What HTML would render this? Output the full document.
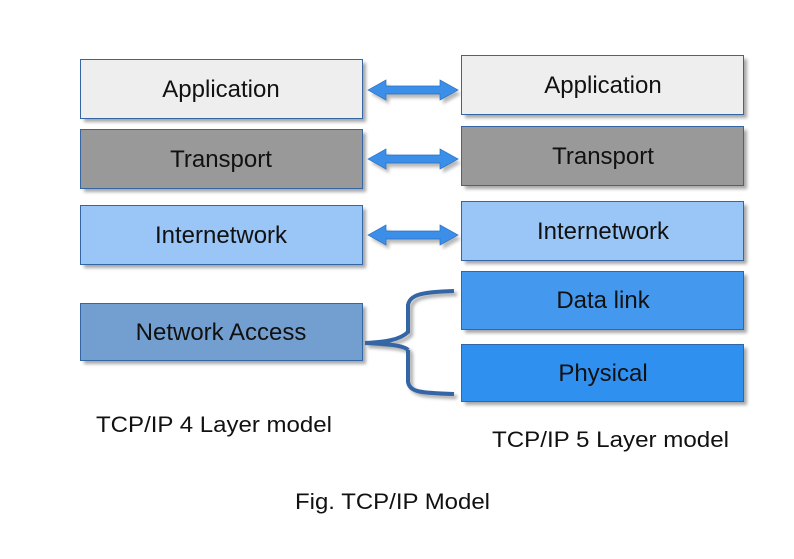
<!DOCTYPE html>
<html><head><meta charset="utf-8"><style>
html,body{margin:0;padding:0;background:#fff;}
svg{display:block;}
text{font-family:"Liberation Sans",sans-serif;font-size:22px;fill:#111;}
.b{font-size:24px;}
</style></head><body>
<svg width="794" height="559" viewBox="0 0 794 559" xmlns="http://www.w3.org/2000/svg">
<defs>
<g id="arr"><path d="M0,0 L18,-10 L18,-4 L72,-4 L72,-10 L90,0 L72,10 L72,4 L18,4 L18,10 Z"/></g>
<filter id="bl" x="-10%" y="-20%" width="120%" height="140%"><feGaussianBlur stdDeviation="1.5"/></filter>
</defs>
<g fill="#8a8a8a" opacity="0.75" filter="url(#bl)">
<rect x="84" y="63" width="282" height="59"/>
<rect x="84" y="133" width="282" height="59"/>
<rect x="84" y="209" width="282" height="59"/>
<rect x="84" y="307" width="282" height="57"/>
<rect x="465" y="59" width="282" height="59"/>
<rect x="465" y="130" width="282" height="59"/>
<rect x="465" y="205" width="282" height="59"/>
<rect x="465" y="275" width="282" height="58"/>
<rect x="465" y="348" width="282" height="57"/>
</g>
<g stroke="#3465a4" stroke-width="1">
<rect x="80.5" y="59.5" width="282" height="59" fill="#eeeeee"/>
<rect x="80.5" y="129.5" width="282" height="59" fill="#999999"/>
<rect x="80.5" y="205.5" width="282" height="59" fill="#99c5f7"/>
<rect x="80.5" y="303.5" width="282" height="57" fill="#729fcf"/>
<rect x="461.5" y="55.5" width="282" height="59" fill="#eeeeee"/>
<rect x="461.5" y="126.5" width="282" height="59" fill="#999999"/>
<rect x="461.5" y="201.5" width="282" height="59" fill="#99c5f7"/>
<rect x="461.5" y="271.5" width="282" height="58" fill="#4499ee"/>
<rect x="461.5" y="344.5" width="282" height="57" fill="#3090f0"/>
</g>
<g text-anchor="middle" class="b">
<text class="b" x="221" y="97">Application</text>
<text class="b" x="221" y="167">Transport</text>
<text class="b" x="221" y="243">Internetwork</text>
<text class="b" x="221" y="340">Network Access</text>
<text class="b" x="603" y="93">Application</text>
<text class="b" x="603" y="164">Transport</text>
<text class="b" x="603" y="239">Internetwork</text>
<text class="b" x="603" y="308">Data link</text>
<text class="b" x="603" y="381">Physical</text>
</g>
<g fill="#888" opacity="0.6" filter="url(#bl)">
<use href="#arr" x="371" y="94"/><use href="#arr" x="371" y="163"/><use href="#arr" x="371" y="239"/>
</g>
<g fill="#3b8fe8" stroke="#2a6fc0" stroke-width="0.7">
<use href="#arr" x="368" y="90"/><use href="#arr" x="368" y="159"/><use href="#arr" x="368" y="235"/>
</g>
<path d="M365,343 C385,342 400,340 408,332 L408,305 C410,295 420,292 454,291 M408,350 C404,345 385,344 365,343 M408,350 L408,382 C410,392 420,393 454,394" fill="none" stroke="#aaa" stroke-width="4" transform="translate(3,3)" filter="url(#bl)"/>
<path d="M365,343 C385,342 400,340 408,332 L408,305 C410,295 420,292 454,291 M408,350 C404,345 385,344 365,343 M408,350 L408,382 C410,392 420,393 454,394" fill="none" stroke="#3465a4" stroke-width="4"/>
<text x="96" y="432" textLength="236" lengthAdjust="spacingAndGlyphs">TCP/IP 4 Layer model</text>
<text x="492" y="447" textLength="237" lengthAdjust="spacingAndGlyphs">TCP/IP 5 Layer model</text>
<text x="295" y="509" textLength="195" lengthAdjust="spacingAndGlyphs">Fig. TCP/IP Model</text>
</svg>
</body></html>
